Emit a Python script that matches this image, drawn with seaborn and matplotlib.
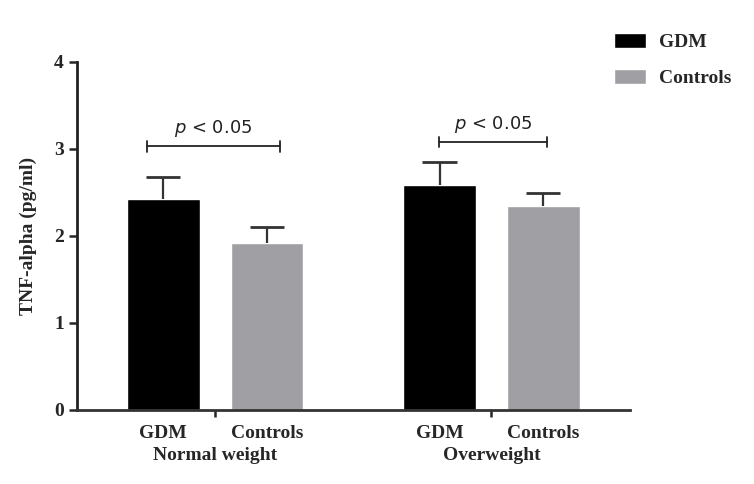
import pandas as pd
import seaborn as sns
import matplotlib.pyplot as plt
from matplotlib.patches import Patch

# Values
groups = ["Normal weight", "Overweight"]
subjects = ["GDM", "Controls"]
means = {"GDM": [2.43, 2.59], "Controls": [1.92, 2.34]}
sems = {"GDM": [0.25, 0.26], "Controls": [0.18, 0.15]}
p_labels = ["p < 0.05", "p < 0.05"]
p_heights = [3.03, 3.08]

rows = []
for s in subjects:
    for i, g in enumerate(groups):
        rows.append({"group": g, "subject": s, "mean": means[s][i], "sem": sems[s][i]})
data = pd.DataFrame(rows)

sns.set_style("ticks")
plt.rcParams['font.family'] = ['Liberation Serif', 'DejaVu Serif']

fig = plt.figure(figsize=(7.54, 4.84), dpi=100)
ax = fig.add_axes([0.102, 0.153, 0.733, 0.719])

palette = {"GDM": "#000000", "Controls": "#a0a0a4"}
sns.barplot(data=data, x="group", y="mean", hue="subject", hue_order=subjects,
            palette=palette, width=0.75, gap=0.3, errorbar=None, ax=ax,
            saturation=1, legend=False)

# upper-only error bars (SEM)
offsets = {"GDM": -0.1875, "Controls": 0.1875}
for s in subjects:
    xs = [i + offsets[s] for i in range(len(groups))]
    tops = [m + e for m, e in zip(means[s], sems[s])]
    ax.vlines(xs, means[s], tops, color="#333333", lw=1.6)
    ax.hlines(tops, [x - 0.062 for x in xs], [x + 0.062 for x in xs],
              color="#333333", lw=2)

# significance brackets
spans = [(-0.245, 0.235), (1 - 0.19, 1 + 0.2)]
for (x0, x1), lab, h in zip(spans, p_labels, p_heights):
    ax.plot([x0, x1], [h, h], color="#222222", lw=1.3)
    ax.plot([x0, x0], [h - 0.06, h + 0.06], color="#222222", lw=1.3)
    ax.plot([x1, x1], [h - 0.06, h + 0.06], color="#222222", lw=1.3)
    ax.text((x0 + x1) / 2, h + 0.08, r"$\it{p}$" + lab[1:], ha="center", va="bottom",
            fontsize=13, family=["DejaVu Sans"], color="#222222")

ax.set_xlim(-0.5, 1.5)
ax.set_ylim(0, 4)
ax.set_yticks([0, 1, 2, 3, 4])
ax.set_xticks([0, 1])
ax.set_xticklabels([])
ax.set_xlabel("")
ax.set_ylabel("TNF-alpha (pg/ml)", fontsize=14, fontweight="bold", labelpad=12)
ax.tick_params(axis="y", labelsize=14, width=1.8, length=6)
ax.tick_params(axis="x", width=1.8, length=5)
for lab in ax.get_yticklabels():
    lab.set_fontweight("bold")
ax.spines["left"].set_linewidth(2)
ax.spines["bottom"].set_linewidth(2)
ax.spines["left"].set_color("#222222")
ax.spines["bottom"].set_color("#333333")
sns.despine(ax=ax)

# subject labels and group labels under the axis
for i, g in enumerate(groups):
    for s in subjects:
        ax.text(i + offsets[s], -0.17, s, ha="center", va="top", fontsize=14,
                fontweight="bold")
    ax.text(i, -0.43, g, ha="center", va="top", fontsize=14, fontweight="bold")

# legend outside on the right
handles = [Patch(facecolor=palette[s], label=s) for s in subjects]
fig.legend(handles=handles, loc="upper left", bbox_to_anchor=(0.791, 0.968),
           frameon=False, prop={"weight": "bold", "size": 14},
           handlelength=1.65, handleheight=0.8, labelspacing=0.9, handletextpad=0.65)

plt.savefig("out.png", dpi=100)
plt.close()
